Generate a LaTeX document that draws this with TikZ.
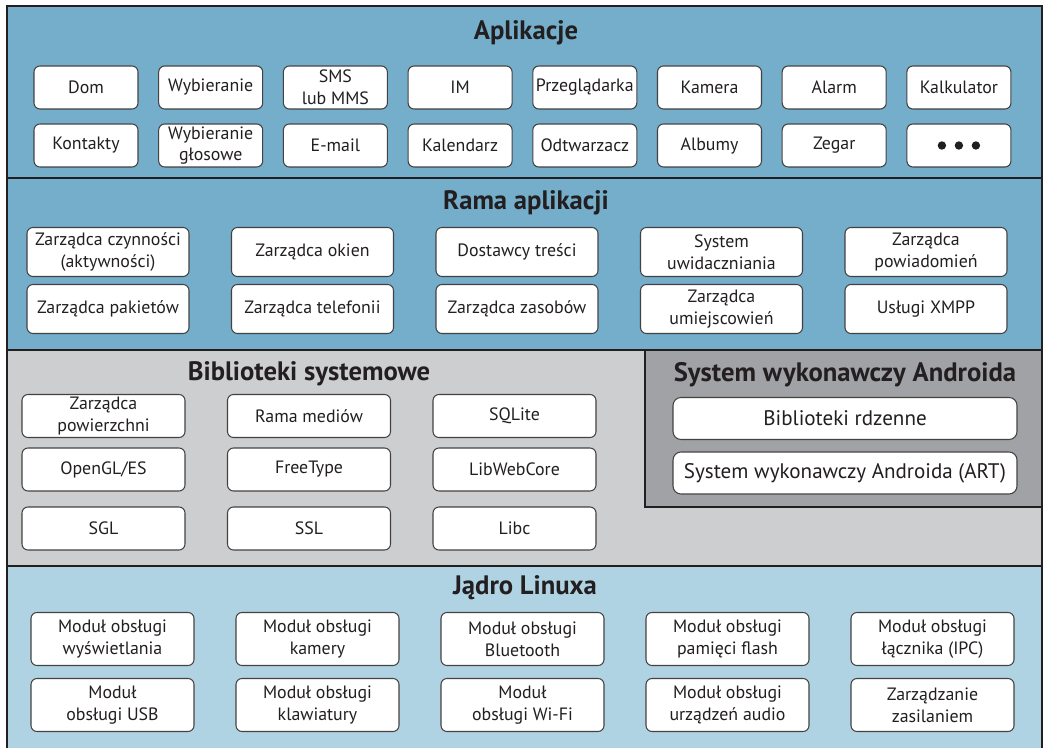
\documentclass[tikz,border=0pt]{standalone}
\usepackage{fontspec}
\setmainfont{PT Sans}
\usetikzlibrary{calc}
\newlength\px \setlength\px{0.75pt}
\definecolor{appblue}{HTML}{74AECA}
\definecolor{kernblue}{HTML}{B0D3E3}
\definecolor{libgray}{HTML}{CDCED0}
\definecolor{rtgray}{HTML}{A1A2A6}
\definecolor{ink}{HTML}{231F20}
\tikzset{
  comp/.style={draw=ink!85, line width=0.8pt, fill=white, rounded corners=6\px,
    align=center, inner sep=0pt, text=ink,
    font=\fontsize{13.4}{16.3}\selectfont},
  layertitle/.style={text=ink, font=\bfseries\fontsize{20}{22}\selectfont, inner sep=0pt, anchor=center},
  frameline/.style={draw=ink, line width=2.2pt},
}
\begin{document}
\begin{tikzpicture}[x=0.75pt,y=-0.75pt]
\useasboundingbox (0,0) rectangle (1046,748);
% layer backgrounds
\fill[appblue] (7,6) rectangle (1042,350);
\fill[libgray] (7,350) rectangle (1042,566);
\fill[rtgray] (645,350) rectangle (1042,507);
\fill[kernblue] (7,566) rectangle (1042,752);
% frame and separators
\draw[frameline] (7,6) rectangle (1042,752);
\draw[frameline] (7,178) -- (1042,178);
\draw[frameline] (7,350) -- (1042,350);
\draw[frameline] (7,566) -- (1042,566);
\draw[frameline] (645,350) -- (645,507) -- (1042,507);

% ---------- Aplikacje ----------
\node[layertitle] (tApp) at (526,33) {Aplikacje};
\tikzset{app/.style={comp, minimum width=104\px, minimum height=43\px}}
\node[app] (a1) at (86,87.5) {Dom};
\node[app] (a2) at (210.7,87.5) {Wybieranie};
\node[app] (a3) at (335.4,87.5) {SMS\\lub MMS};
\node[app] (a4) at (460.1,87.5) {IM};
\node[app] (a5) at (584.8,87.5) {Przeglądarka};
\node[app] (a6) at (709.5,87.5) {Kamera};
\node[app] (a7) at (834.2,87.5) {Alarm};
\node[app] (a8) at (958.9,87.5) {Kalkulator};
\node[app] (b1) at (86,145.5) {Kontakty};
\node[app] (b2) at (210.7,145.5) {Wybieranie\\głosowe};
\node[app] (b3) at (335.4,145.5) {E-mail};
\node[app] (b4) at (460.1,145.5) {Kalendarz};
\node[app] (b5) at (584.8,145.5) {Odtwarzacz};
\node[app] (b6) at (709.5,145.5) {Albumy};
\node[app] (b7) at (834.2,145.5) {Zegar};
\node[app] (b8) at (958.9,145.5) {};
\foreach \dx in {-17,0,17} \fill[ink] ($(b8.center)+(\dx,0)$) circle (4.2);

% ---------- Rama aplikacji ----------
\node[layertitle] (tFw) at (526,203) {Rama aplikacji};
\tikzset{fw/.style={comp, minimum width=162\px, minimum height=49\px}}
\node[fw] (f1) at (108,252) {Zarządca czynności\\(aktywności)};
\node[fw] (f2) at (312.5,252) {Zarządca okien};
\node[fw] (f3) at (517,252) {Dostawcy treści};
\node[fw] (f4) at (721.5,252) {System\\uwidaczniania};
\node[fw] (f5) at (926,252) {Zarządca\\powiadomień};
\node[fw] (g1) at (108,309) {Zarządca pakietów};
\node[fw] (g2) at (312.5,309) {Zarządca telefonii};
\node[fw] (g3) at (517,309) {Zarządca zasobów};
\node[fw] (g4) at (721.5,309) {Zarządca\\umiejscowień};
\node[fw] (g5) at (926,309) {Usługi XMPP};

% ---------- Biblioteki systemowe ----------
\node[layertitle] (tLib) at (309,374) {Biblioteki systemowe};
\tikzset{lib/.style={comp, minimum width=163\px, minimum height=43\px}}
\node[lib] (l1) at (103.5,416) {Zarządca\\powierzchni};
\node[lib] (l2) at (309,416) {Rama mediów};
\node[lib] (l3) at (514.5,416) {SQLite};
\node[lib] (l4) at (103.5,469.5) {OpenGL/ES};
\node[lib] (l5) at (309,469.5) {FreeType};
\node[lib] (l6) at (514.5,469.5) {LibWebCore};
\node[lib] (l7) at (103.5,528.5) {SGL};
\node[lib] (l8) at (309,528.5) {SSL};
\node[lib] (l9) at (514.5,528.5) {Libc};

% ---------- System wykonawczy Androida ----------
\node[layertitle] (tRt) at (845,375) {System wykonawczy Androida};
\tikzset{rt/.style={comp, minimum width=344\px, minimum height=42\px, rounded corners=8\px,
  font=\fontsize{15.8}{18}\selectfont}}
\node[rt] (r1) at (845,418.5) {Biblioteki rdzenne};
\node[rt] (r2) at (845,473) {System wykonawczy Androida (ART)};

% ---------- Jądro Linuxa ----------
\node[layertitle] (tKer) at (525,588) {Jądro Linuxa};
\tikzset{ker/.style={comp, minimum width=163\px, minimum height=53\px}}
\node[ker] (k1) at (112.5,639) {Moduł obsługi\\wyświetlania};
\node[ker] (k2) at (317.5,639) {Moduł obsługi\\kamery};
\node[ker] (k3) at (522.5,639) {Moduł obsługi\\Bluetooth};
\node[ker] (k4) at (727.5,639) {Moduł obsługi\\pamięci flash};
\node[ker] (k5) at (932.5,639) {Moduł obsługi\\łącznika (IPC)};
\node[ker] (m1) at (112.5,705) {Moduł\\obsługi USB};
\node[ker] (m2) at (317.5,705) {Moduł obsługi\\klawiatury};
\node[ker] (m3) at (522.5,705) {Moduł\\obsługi Wi-Fi};
\node[ker] (m4) at (727.5,705) {Moduł obsługi\\urządzeń audio};
\node[ker] (m5) at (932.5,705) {Zarządzanie\\zasilaniem};
\end{tikzpicture}
\end{document}
